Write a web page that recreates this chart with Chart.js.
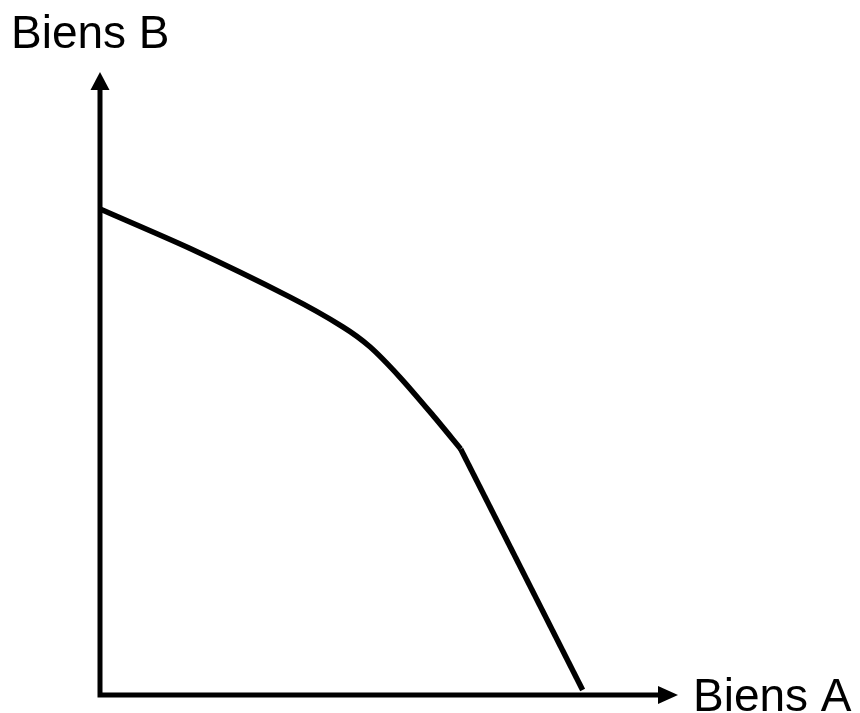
<!DOCTYPE html>
<html lang="fr">
<head>
    <meta charset="UTF-8">
    <title>Frontière des possibilités de production</title>
    <script src="https://cdn.jsdelivr.net/npm/chart.js@4.4.1/dist/chart.umd.min.js"></script>
    <style>
        body {
            margin: 0;
            background: #ffffff;
        }

        .chart-container {
            position: relative;
            width: 860px;
            height: 713px;
        }
    </style>
</head>
<body>

    <div class="chart-container">
        <canvas id="chart"></canvas>
    </div>

<script>

// Frontière : partie courbe puis partie droite (le coude est net)
var curveA = [0, 15.5, 32.8, 42.0, 46.7, 51.9, 57.5, 62.4];
var curveB = [78.0, 71.7, 63.9, 59.1, 55.9, 51.0, 45.0, 39.5];
var straightA = [62.4, 83.5];
var straightB = [39.5, 0.8];

var axisNameX = 'Biens A';
var axisNameY = 'Biens B';

function toPoints(xs, ys) {
    return xs.map((x, i) => ({ x: x, y: ys[i] }));
}

// axes avec flèches + noms des axes
var arrowAxes = {
    id: 'arrowAxes',
    afterDatasetsDraw(chart) {
        var c = chart.ctx;
        var sx = chart.scales.x, sy = chart.scales.y;
        var x0 = sx.getPixelForValue(0), x1 = sx.getPixelForValue(sx.max);
        var y0 = sy.getPixelForValue(0), y1 = sy.getPixelForValue(sy.max);

        c.save();
        c.strokeStyle = '#000';
        c.fillStyle = '#000';
        c.lineWidth = 5;
        c.lineCap = 'butt';

        c.beginPath();
        c.moveTo(x0, y0 + 2.5);
        c.lineTo(x0, y1 + 16);
        c.moveTo(x0 - 2.5, y0);
        c.lineTo(x1 - 16, y0);
        c.stroke();

        c.beginPath();
        c.moveTo(x0, y1);
        c.lineTo(x0 - 9.5, y1 + 18);
        c.lineTo(x0 + 9.5, y1 + 18);
        c.closePath();
        c.fill();

        c.beginPath();
        c.moveTo(x1, y0);
        c.lineTo(x1 - 20, y0 - 9);
        c.lineTo(x1 - 20, y0 + 9);
        c.closePath();
        c.fill();

        c.font = '46px "Liberation Sans", Arial, sans-serif';
        c.textBaseline = 'alphabetic';
        c.textAlign = 'left';
        c.fillText(axisNameY, 11, 48);
        c.fillText(axisNameX, 693, 711);
        c.restore();
    }
};

var ctx = document.getElementById('chart').getContext('2d');

var chart = new Chart(ctx, {
    type: 'scatter',
    data: {
        datasets: [
            {
                data: toPoints(curveA, curveB),
                showLine: true,
                borderColor: '#000',
                borderWidth: 5.5,
                tension: 0.25,
                pointRadius: 0,
            },
            {
                data: toPoints(straightA, straightB),
                showLine: true,
                borderColor: '#000',
                borderWidth: 5.5,
                tension: 0,
                pointRadius: 0,
            },
        ]
    },
    options: {
        responsive: true,
        maintainAspectRatio: false,
        animation: false,
        layout: {
            padding: { left: 100, right: 182, top: 72, bottom: 18 },
        },
        scales: {
            x: { type: 'linear', min: 0, max: 100, display: false },
            y: { type: 'linear', min: 0, max: 100, display: false },
        },
        plugins: {
            legend: { display: false },
            tooltip: { enabled: false },
        },
    },
    plugins: [arrowAxes]
});

</script>

</body>
</html>
